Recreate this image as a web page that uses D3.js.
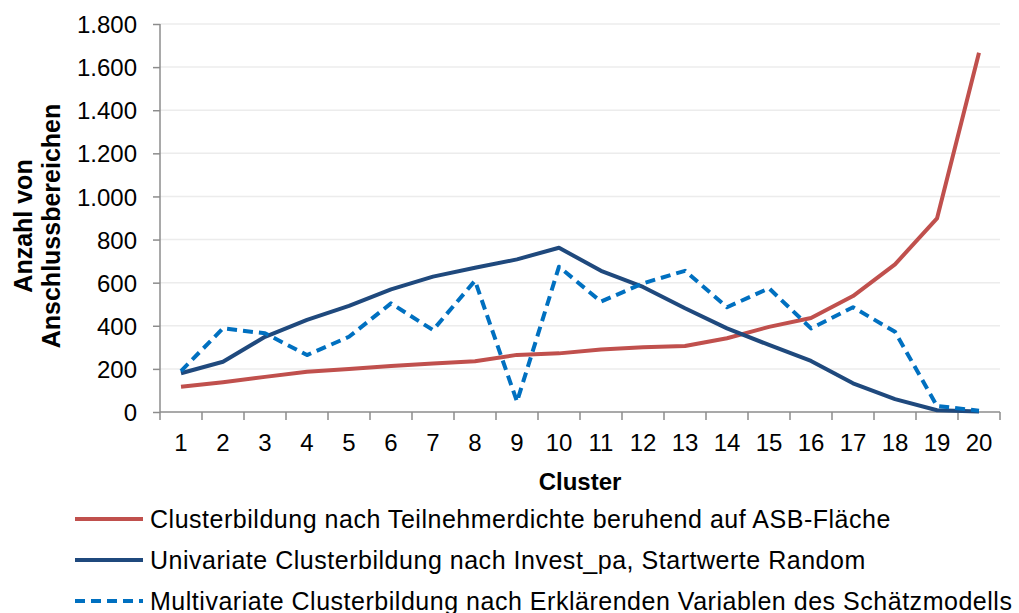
<!DOCTYPE html>
<html>
<head>
<meta charset="utf-8">
<script src="https://cdn.jsdelivr.net/npm/d3@7"></script>
<style>
    body { margin: 0; background: #fff; }
    text { font-family: "Liberation Sans", Arial, sans-serif; fill: #000; }
</style>
</head>
<body>
<script>
// data
let clusters = d3.range(1, 21);
let yTicks = [0, 200, 400, 600, 800, 1000, 1200, 1400, 1600, 1800];

let asbFlaeche = [117, 138, 163, 187, 200, 213, 225, 235, 265, 272,
                  290, 300, 306, 342, 395, 436, 538, 685, 898, 1667];
let investPa = [180, 233, 349, 427, 492, 569, 628, 669, 708, 762,
                655, 580, 481, 388, 311, 237, 133, 60, 8, 2];
let schaetzmodell = [190, 388, 365, 264, 349, 504, 380, 609, 48, 674,
                     512, 597, 655, 486, 574, 388, 486, 372, 28, 6];

let seriesNames = [
    "Clusterbildung nach Teilnehmerdichte beruhend auf ASB-Fläche",
    "Univariate Clusterbildung nach Invest_pa, Startwerte Random",
    "Multivariate Clusterbildung nach Erklärenden Variablen des Schätzmodells"
];

window.onload = function() {
    let w = 1019,
        h = 613;

    let svg = d3.select("body")
        .append("svg")
        .attr("width", w)
        .attr("height", h);

    // plot area
    let left = 160, right = 1000, top = 24, bottom = 412;

    let x = d3.scaleBand()
        .domain(clusters)
        .range([left, right]);

    let y = d3.scaleLinear()
        .domain([0, 1800])
        .range([bottom, top]);

    let de = d3.formatLocale({ decimal: ",", thousands: ".", grouping: [3], currency: ["", " €"] });
    let fmt = de.format(",");

    // gridlines
    svg.append("g")
        .selectAll("line")
        .data(yTicks.filter(function(d) { return d > 0; }))
        .enter()
        .append("line")
        .attr("x1", left)
        .attr("x2", right)
        .attr("y1", function(d) { return y(d); })
        .attr("y2", function(d) { return y(d); })
        .style("stroke", "#ececec")
        .style("stroke-width", 1.5);

    // y axis
    let yAxis = d3.axisLeft(y)
        .tickValues(yTicks)
        .tickSize(7)
        .tickPadding(16)
        .tickFormat(fmt);
    let gy = svg.append("g")
        .attr("transform", "translate(" + left + ",0)")
        .call(yAxis);
    gy.select(".domain").attr("d", "M0," + top + "V" + bottom).style("stroke", "#8c8c8c").style("stroke-width", 1.5);
    gy.selectAll(".tick line").style("stroke", "#8c8c8c").style("stroke-width", 1.5);
    gy.selectAll(".tick text")
        .style("font-size", "24px")
        .style("font-family", "Liberation Sans, Arial, sans-serif")
        .attr("dy", "0.36em");

    // x axis: ticks sit on the band edges
    let xAxis = d3.axisBottom(x)
        .tickSize(0)
        .tickPadding(22);
    let gx = svg.append("g")
        .attr("transform", "translate(0," + bottom + ")")
        .call(xAxis);
    gx.select(".domain").attr("d", "M" + left + ",0H" + right).style("stroke", "#8c8c8c").style("stroke-width", 1.5);
    gx.selectAll(".tick text")
        .style("font-size", "24px")
        .style("font-family", "Liberation Sans, Arial, sans-serif")
        .attr("dy", "0.72em");
    gx.selectAll(".edge")
        .data(clusters.concat([null]))
        .enter()
        .append("line")
        .attr("class", "edge")
        .attr("x1", function(d, i) { return left + i * x.step(); })
        .attr("x2", function(d, i) { return left + i * x.step(); })
        .attr("y1", 0)
        .attr("y2", 8)
        .style("stroke", "#8c8c8c")
        .style("stroke-width", 1.5);

    // axis titles
    svg.append("text")
        .attr("x", (left + right) / 2)
        .attr("y", 490)
        .attr("text-anchor", "middle")
        .style("font-size", "24px")
        .style("font-weight", "bold")
        .text("Cluster");

    let yTitle = svg.append("text")
        .attr("transform", "translate(0,226) rotate(-90)")
        .attr("text-anchor", "middle")
        .style("font-size", "25px")
        .style("font-weight", "bold");
    yTitle.append("tspan").attr("x", 0).attr("y", 32).text("Anzahl von");
    yTitle.append("tspan").attr("x", 0).attr("y", 60).text("Anschlussbereichen");

    // lines
    let series = [
        { name: seriesNames[0], values: asbFlaeche, color: "#c0504d", dash: null },
        { name: seriesNames[1], values: investPa, color: "#1f497d", dash: null },
        { name: seriesNames[2], values: schaetzmodell, color: "#0070c0", dash: "10,6" }
    ];

    let line = d3.line()
        .x(function(d, i) { return x(clusters[i]) + x.bandwidth() / 2; })
        .y(function(d) { return y(d); });

    svg.append("g")
        .selectAll("path")
        .data(series)
        .enter()
        .append("path")
        .attr("d", function(d) { return line(d.values); })
        .style("fill", "none")
        .style("stroke", function(d) { return d.color; })
        .style("stroke-width", 4)
        .style("stroke-linejoin", "round")
        .style("stroke-dasharray", function(d) { return d.dash; });

    // legend
    let legend = svg.append("g")
        .selectAll("g")
        .data(series)
        .enter()
        .append("g")
        .attr("transform", function(d, i) { return "translate(0," + (519 + i * 41) + ")"; });

    legend.append("line")
        .attr("x1", 75)
        .attr("x2", 143)
        .style("stroke", function(d) { return d.color; })
        .style("stroke-width", 4)
        .style("stroke-dasharray", function(d) { return d.dash; });

    legend.append("text")
        .attr("x", 150)
        .attr("y", 9)
        .style("font-size", "25px")
        .style("letter-spacing", "0.52px")
        .text(function(d) { return d.name; });
};
</script>
</body>
</html>
